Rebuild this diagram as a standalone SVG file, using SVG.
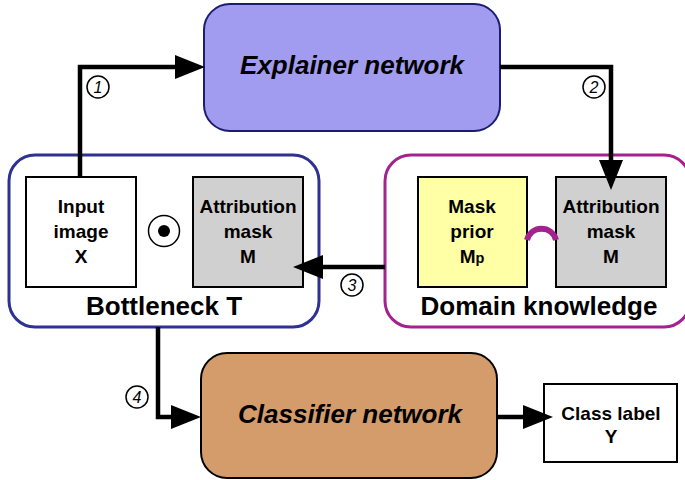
<svg xmlns="http://www.w3.org/2000/svg" width="685" height="480" viewBox="0 0 685 480">
  <style>
    text { font-family: "Liberation Sans", Arial, sans-serif; font-weight: bold; fill: #000; text-anchor: middle; }
    .big { font-size: 26px; }
    .net { font-size: 26px; font-style: italic; }
    .inner { font-size: 19px; }
    .step { font-size: 16px; font-weight: normal; font-style: italic; }
    .box { stroke: #000; stroke-width: 2; }
    .conn { fill: none; stroke: #000; stroke-width: 4.5; }
    .stepc { fill: #fff; stroke: #000; stroke-width: 1.5; }
  </style>
  <defs>
    <marker id="head" markerUnits="userSpaceOnUse" markerWidth="30" markerHeight="24" refX="0" refY="12" orient="auto" overflow="visible">
      <path d="M0,0 L30,12 L0,24 Z" fill="#000"/>
    </marker>
  </defs>

  <rect width="685" height="480" fill="#fff"/>

  <!-- explainer network -->
  <g id="explainer">
    <rect x="204" y="4" width="296" height="127" rx="26" fill="#a29cf0" stroke="#1c1c70" stroke-width="2"/>
    <text class="net" x="352" y="74">Explainer network</text>
  </g>

  <!-- bottleneck container -->
  <g id="bottleneck">
    <rect x="9" y="155" width="310" height="172" rx="26" fill="#fff" stroke="#2e3192" stroke-width="3"/>
    <text class="big" x="164" y="315">Bottleneck T</text>
  </g>

  <g id="input-image">
    <rect class="box" x="26" y="177" width="110" height="110" fill="#fff"/>
    <text class="inner" x="81" y="213">Input</text>
    <text class="inner" x="81" y="238">image</text>
    <text class="inner" x="81" y="263">X</text>
  </g>

  <g id="odot">
    <circle cx="164" cy="231" r="15.5" fill="#fff" stroke="#000" stroke-width="1.5"/>
    <circle cx="164" cy="231" r="6" fill="#000"/>
  </g>

  <g id="mask-bottleneck">
    <rect class="box" x="193" y="177" width="110" height="110" fill="#d0d0d0"/>
    <text class="inner" x="248" y="213">Attribution</text>
    <text class="inner" x="248" y="238">mask</text>
    <text class="inner" x="248" y="263">M</text>
  </g>

  <!-- domain knowledge container -->
  <g id="domain">
    <rect x="385" y="155" width="305" height="172" rx="26" fill="#fff" stroke="#a3228f" stroke-width="3"/>
    <text class="big" x="539" y="315">Domain knowledge</text>
  </g>

  <g id="mask-prior">
    <rect class="box" x="418" y="177" width="109" height="110" fill="#ffffa6"/>
    <text class="inner" x="472" y="213">Mask</text>
    <text class="inner" x="472" y="238">prior</text>
    <text class="inner" x="472" y="263">M<tspan font-size="14.5">p</tspan></text>
  </g>

  <g id="mask-domain">
    <rect class="box" x="556" y="177" width="110" height="110" fill="#d0d0d0"/>
    <text class="inner" x="611" y="213">Attribution</text>
    <text class="inner" x="611" y="238">mask</text>
    <text class="inner" x="611" y="263">M</text>
  </g>

  <!-- classifier network -->
  <g id="classifier">
    <rect x="201" y="353" width="296" height="125" rx="26" fill="#d49b6b" stroke="#000" stroke-width="2"/>
    <text class="net" x="350" y="423">Classifier network</text>
  </g>

  <g id="class-label">
    <rect class="box" x="544" y="384" width="133" height="78" fill="#fff"/>
    <text class="inner" x="611" y="420">Class label</text>
    <text class="inner" x="611" y="443">Y</text>
  </g>

  <!-- connectors -->
  <g id="connectors">
    <path class="conn" d="M80,177 V67 H175" marker-end="url(#head)"/>
    <path class="conn" d="M500,67 H611 V160" marker-end="url(#head)"/>
    <path class="conn" d="M385,267 H323" marker-end="url(#head)"/>
    <path class="conn" d="M158,327 V417 H171" marker-end="url(#head)"/>
    <path class="conn" d="M497,417 H523" marker-end="url(#head)"/>
    <!-- prior constraint between the two masks -->
    <path d="M527,240 C531,225 552,225 556,240" fill="none" stroke="#a3228f" stroke-width="6"/>
  </g>

  <!-- step numbers -->
  <g id="steps">
    <circle class="stepc" cx="98" cy="87" r="11"/>
    <text class="step" x="98" y="93">1</text>
    <circle class="stepc" cx="594" cy="87" r="11"/>
    <text class="step" x="594" y="93">2</text>
    <circle class="stepc" cx="352" cy="285" r="11"/>
    <text class="step" x="352" y="291">3</text>
    <circle class="stepc" cx="137" cy="397" r="11"/>
    <text class="step" x="137" y="403">4</text>
  </g>
</svg>
